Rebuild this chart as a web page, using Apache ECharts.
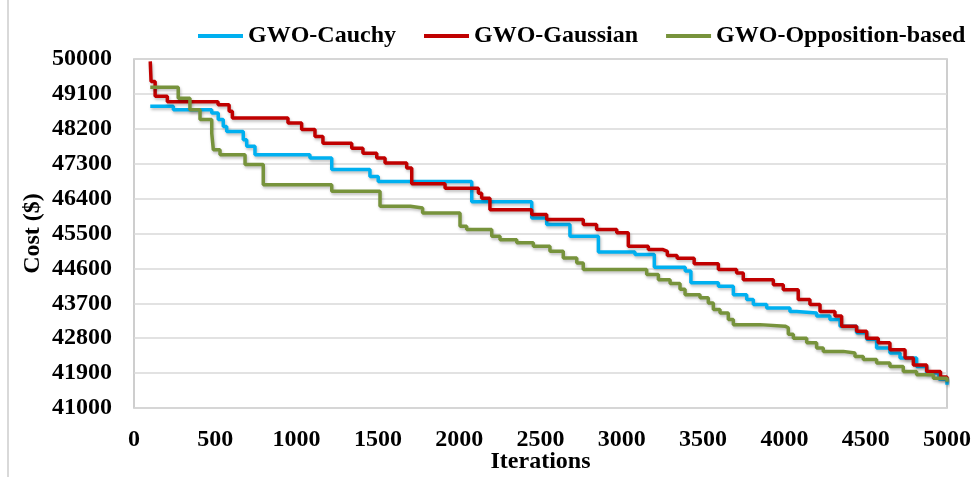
<!DOCTYPE html>
<html>
<head>
<meta charset="utf-8">
<title>GWO variants – cost vs iterations</title>
<script src="https://cdn.jsdelivr.net/npm/echarts@6/dist/echarts.min.js"></script>
<style>
  html, body { margin: 0; padding: 0; background: #fff; }
  #chart { width: 979px; height: 477px; }
</style>
</head>
<body>
<div id="chart"></div>
<script>
// Best cost found so far, as [iteration, cost] change points (held flat until the next point)
const seriesNames = ['GWO-Cauchy', 'GWO-Gaussian', 'GWO-Opposition-based'];

const cauchy = [
  [100, 48780], [242, 48690], [478, 48610], [518, 48440], [549, 48260], [570, 48130],
  [672, 47920], [693, 47750], [744, 47530], [1082, 47450], [1216, 47150], [1451, 46970],
  [1502, 46840], [2077, 46320], [2446, 45900], [2538, 45730], [2681, 45430], [2856, 45020],
  [3081, 44960], [3200, 44630], [3390, 44530], [3425, 44230], [3594, 44140], [3686, 43920],
  [3768, 43800], [3809, 43670], [3891, 43580], [4034, 43490], [4075, 43450], [4198, 43370],
  [4280, 43280], [4342, 43110], [4444, 42940], [4506, 42770], [4567, 42550], [4649, 42420],
  [4711, 42290], [4813, 42070], [4875, 41900], [4950, 41750], [5000, 41600]
];

const gaussian = [
  [100, 49940], [105, 49420], [130, 49040], [205, 48900], [517, 48820], [585, 48650],
  [605, 48480], [947, 48350], [1031, 48180], [1113, 48000], [1162, 47830], [1339, 47700],
  [1408, 47570], [1493, 47450], [1544, 47320], [1677, 47190], [1708, 46780], [1913, 46670],
  [2118, 46540], [2138, 46410], [2189, 46110], [2446, 45990], [2538, 45860], [2763, 45730],
  [2845, 45600], [2969, 45520], [3040, 45170], [3163, 45090], [3250, 45040], [3280, 44930],
  [3340, 44860], [3445, 44720], [3594, 44570], [3706, 44480], [3747, 44310], [3932, 44180],
  [3993, 44050], [4085, 43800], [4157, 43670], [4219, 43490], [4311, 43370], [4352, 43110],
  [4444, 42980], [4506, 42800], [4577, 42680], [4649, 42500], [4742, 42290], [4793, 42110],
  [4875, 41940], [4960, 41800], [5000, 41730]
];

const opposition = [
  [100, 49270], [272, 48990], [344, 48690], [406, 48440], [478, 48090], [488, 47660],
  [529, 47530], [683, 47280], [795, 46760], [1216, 46590], [1513, 46200], [1700, 46160],
  [1775, 46030], [2005, 45690], [2046, 45600], [2200, 45430], [2251, 45340], [2354, 45260],
  [2456, 45170], [2558, 45040], [2640, 44870], [2723, 44740], [2763, 44570], [3153, 44440],
  [3225, 44310], [3297, 44210], [3358, 44060], [3389, 43920], [3481, 43840], [3532, 43710],
  [3563, 43540], [3604, 43450], [3655, 43280], [3686, 43150], [3850, 43110], [4004, 43070],
  [4024, 42900], [4055, 42800], [4137, 42680], [4198, 42550], [4239, 42460], [4362, 42420],
  [4434, 42330], [4485, 42250], [4567, 42160], [4649, 42070], [4731, 41940], [4813, 41860],
  [4916, 41770], [5000, 41680]
];

// Axis ranges and tick spacing
const xMin = 0, xMax = 5000, xStep = 500;
const yMin = 41000, yMax = 50000, yStep = 900;

const colors = ['#00B0F0', '#C00000', '#77933C'];
const serif = "'Liberation Serif', 'Times New Roman', serif";
const textBase = { fontFamily: serif, fontWeight: 'bold', fontSize: 24, color: '#000' };

const chart = echarts.init(document.getElementById('chart'), null, { renderer: 'canvas' });

function lineSeries(name, data, color) {
  return {
    name: name,
    type: 'line',
    step: 'end',
    data: data,
    showSymbol: false,
    symbol: 'none',
    animation: false,
    lineStyle: {
      color: color,
      width: 3.5,
      shadowColor: 'rgba(0,0,0,0.25)',
      shadowBlur: 3,
      shadowOffsetX: 1,
      shadowOffsetY: 2
    },
    itemStyle: { color: color }
  };
}

chart.setOption({
  backgroundColor: '#ffffff',
  animation: false,
  graphic: [{
    type: 'line',
    shape: { x1: 8, y1: 0, x2: 8, y2: 477 },
    style: { stroke: '#D9D9D9', lineWidth: 2 }
  }],
  legend: {
    data: seriesNames.map((n, i) => ({ name: n, icon: 'rect', itemStyle: { color: colors[i] } })),
    left: 198,
    top: 24,
    padding: 0,
    itemWidth: 45,
    itemHeight: 4,
    itemGap: 28,
    textStyle: Object.assign({}, textBase)
  },
  grid: {
    left: 134,
    right: 32,
    top: 59,
    bottom: 69,
    containLabel: false,
    outerBoundsMode: 'none',
    show: true,
    borderColor: '#BFBFBF',
    borderWidth: 1.5,
    backgroundColor: 'transparent'
  },
  xAxis: {
    type: 'value',
    min: xMin,
    max: xMax,
    interval: xStep,
    name: 'Iterations',
    nameLocation: 'middle',
    nameGap: 42,
    nameMoveOverlap: false,
    nameTextStyle: Object.assign({}, textBase),
    axisLine: { show: false },
    axisTick: { show: false },
    splitLine: { show: false },
    axisLabel: Object.assign({ margin: 20, formatter: v => String(v) }, textBase)
  },
  yAxis: {
    type: 'value',
    min: yMin,
    max: yMax,
    interval: yStep,
    name: 'Cost ($)',
    nameLocation: 'middle',
    nameGap: 89,
    nameMoveOverlap: false,
    nameTextStyle: Object.assign({}, textBase),
    axisLine: { show: false },
    axisTick: { show: false },
    splitLine: { show: true, lineStyle: { color: '#D9D9D9', width: 1.5 } },
    axisLabel: Object.assign({ margin: 22, formatter: v => String(v) }, textBase)
  },
  series: [
    lineSeries(seriesNames[0], cauchy, colors[0]),
    lineSeries(seriesNames[1], gaussian, colors[1]),
    lineSeries(seriesNames[2], opposition, colors[2])
  ]
});
</script>
</body>
</html>
